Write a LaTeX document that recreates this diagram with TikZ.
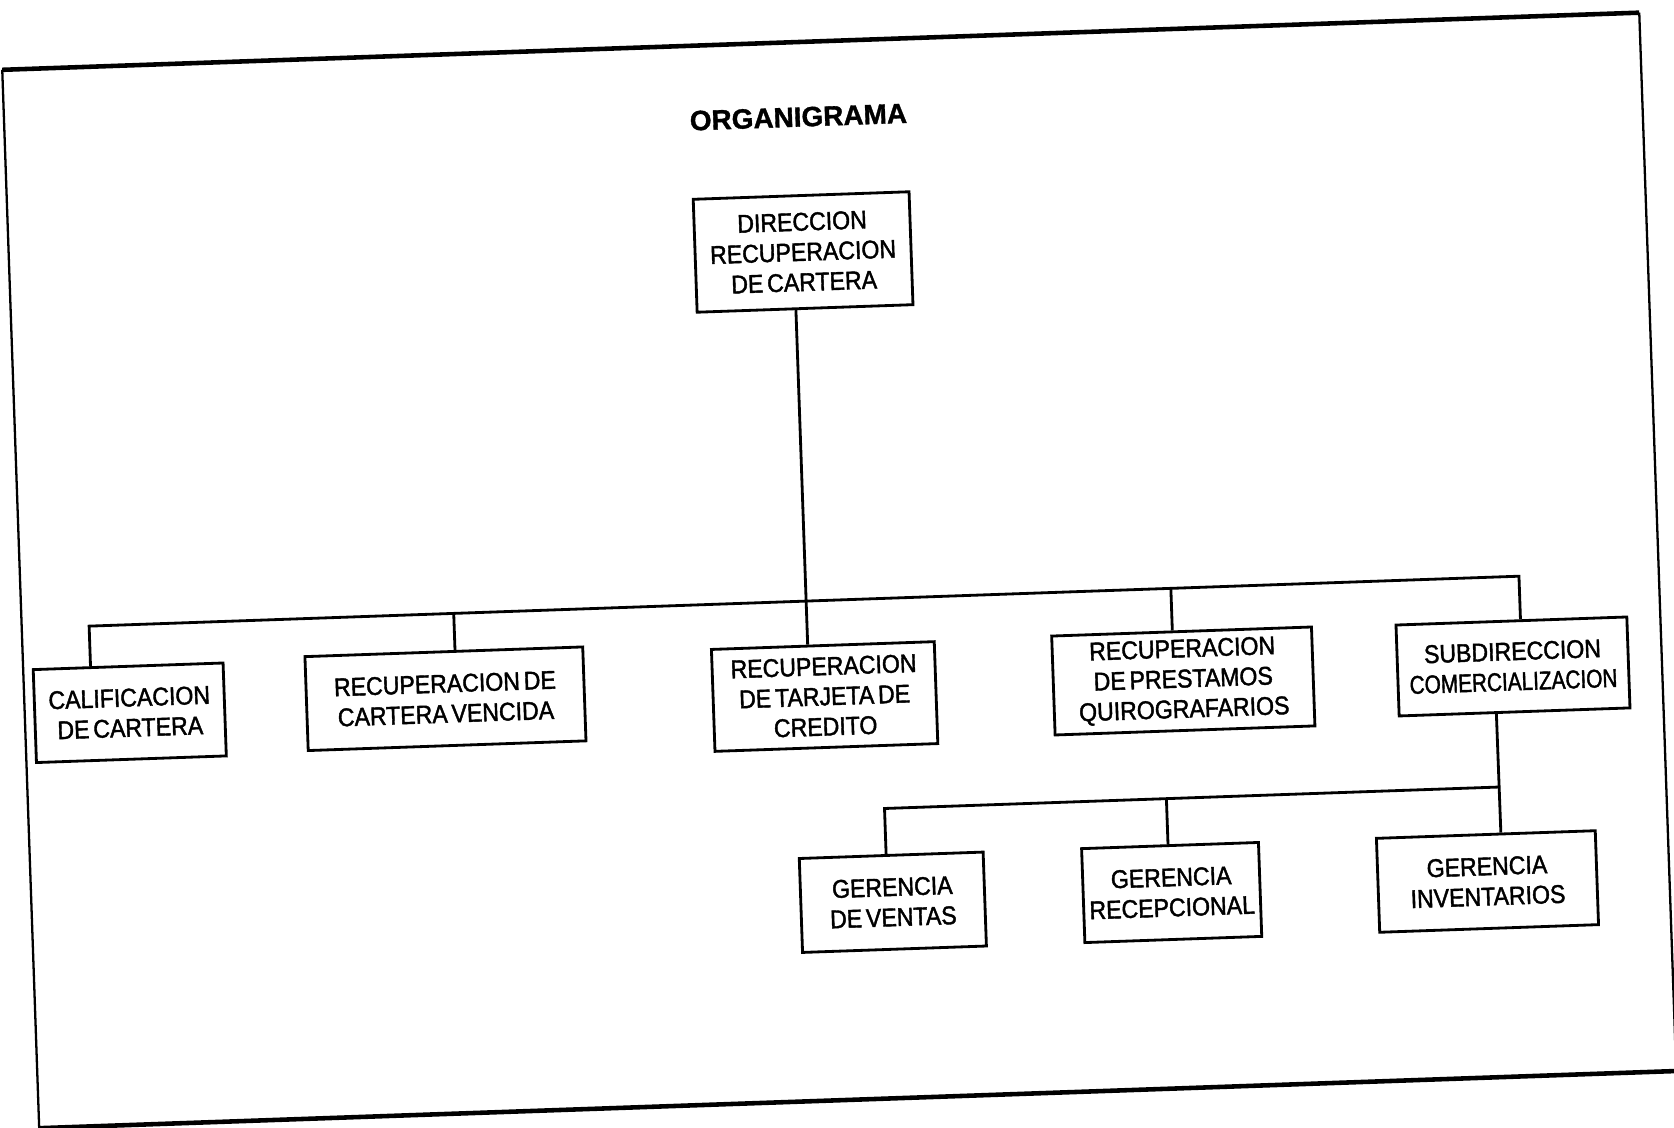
\documentclass[tikz,border=0pt]{standalone}
\usepackage{fontspec}
\setmainfont{Liberation Sans}
\newfontfamily\boxfont[FakeStretch=0.9,FakeBold=1.6,WordSpace=0.6]{Liberation Sans}
\newfontfamily\ttlfont[FakeBold=1.2]{Liberation Sans}
\usetikzlibrary{calc}
\begin{document}
\begin{tikzpicture}[x=0.02cm,y=-0.02cm,
  box/.style={draw,line width=1.6pt,align=center,inner sep=0pt,
    font=\boxfont\fontsize{14.6}{17.2}\selectfont},
  conn/.style={line width=1.6pt},
  frameh/.style={line width=2.6pt},
  framev/.style={line width=1.3pt}]
\useasboundingbox (0,0) rectangle (1674,1128);
\fill[white] (0,0) rectangle (1674,1128);
\clip (0,0) rectangle (1674,1128);
\begin{scope}[rotate around={2:(837,564)},transform shape]
  % frame
  \coordinate (fTL) at (20,41);
  \coordinate (fTR) at (1658,41);
  \coordinate (fBR) at (1658,1100);
  \coordinate (fBL) at (20,1100);
  \draw[frameh] (fTL) -- (fTR);
  \draw[frameh] (fBL) -- (fBR);
  \draw[framev] (fTL) -- (fBL);
  \draw[framev] (fTR) -- (fBR);

  \node[font=\ttlfont\bfseries\fontsize{15.9}{19}\selectfont] (title) at (814,116) {ORGANIGRAMA};

  \node[box,minimum width=4.32cm,minimum height=2.26cm] (top) at (814,251)
    {DIRECCION\\RECUPERACION\\DE CARTERA};

  \node[box,minimum width=3.8cm,minimum height=1.86cm] (calif) at (125,688)
    {CALIFICACION\\DE CARTERA};
  \node[box,minimum width=5.56cm,minimum height=1.88cm] (venc) at (441,685)
    {RECUPERACION DE\\CARTERA VENCIDA};
  \node[box,minimum width=4.46cm,minimum height=2.04cm] (tarj) at (820,696)
    {RECUPERACION\\DE TARJETA DE\\CREDITO};
  \node[box,minimum width=5.2cm,minimum height=1.98cm] (prest) at (1179,693)
    {RECUPERACION\\DE PRESTAMOS\\QUIROGRAFARIOS};
  \node[box,minimum width=4.62cm,minimum height=1.82cm] (subd) at (1509,690)
    {SUBDIRECCION\\\scalebox{0.9}[1]{COMERCIALIZACION}};

  \node[box,minimum width=3.68cm,minimum height=1.88cm] (vent) at (881,904)
    {GERENCIA\\DE VENTAS};
  \node[box,minimum width=3.54cm,minimum height=1.88cm] (recep) at (1160,904)
    {GERENCIA\\RECEPCIONAL};
  \node[box,minimum width=4.38cm,minimum height=1.88cm] (inv) at (1476,904)
    {GERENCIA\\INVENTARIOS};

  % connection points
  \path ($(top.south west)!0.458!(top.south east)$) coordinate (t0);
  \path ($(calif.north west)!0.305!(calif.north east)$) coordinate (c1);
  \path ($(venc.north west)!0.54!(venc.north east)$) coordinate (c2);
  \path ($(tarj.north west)!0.433!(tarj.north east)$) coordinate (c3);
  \path ($(prest.north west)!0.465!(prest.north east)$) coordinate (c4);
  \path ($(subd.north west)!0.539!(subd.north east)$) coordinate (c5);
  \path ($(subd.south west)!0.422!(subd.south east)$) coordinate (s0);
  \path ($(vent.north west)!0.473!(vent.north east)$) coordinate (g1);
  \path ($(recep.north west)!0.489!(recep.north east)$) coordinate (g2);
  \path ($(inv.north west)!0.568!(inv.north east)$) coordinate (g3);
  \coordinate (bA) at (0,600);
  \coordinate (bB) at (1600,600);
  \coordinate (gA) at (0,810);
  \coordinate (gB) at (1600,810);

  \draw[conn] (t0) -- (c3);
  \draw[conn] (c1) -- ($(bA)!(c1)!(bB)$) -- ($(bA)!(c5)!(bB)$) -- (c5);
  \draw[conn] (c2) -- ($(bA)!(c2)!(bB)$);
  \draw[conn] (c4) -- ($(bA)!(c4)!(bB)$);
  \draw[conn] (s0) -- (g3);
  \draw[conn] (g1) -- ($(gA)!(g1)!(gB)$) -- ($(gA)!(g3)!(gB)$);
  \draw[conn] (g2) -- ($(gA)!(g2)!(gB)$);
\end{scope}
\end{tikzpicture}
\end{document}
